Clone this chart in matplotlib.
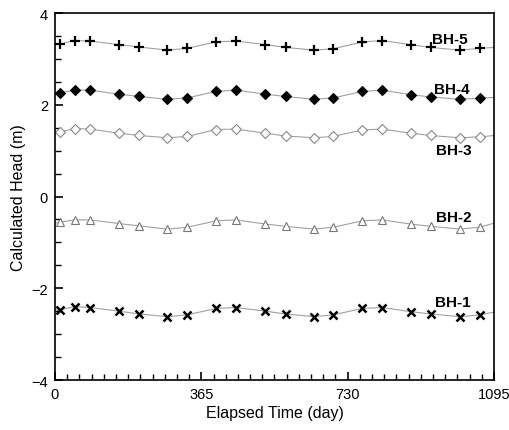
import numpy as np
import matplotlib.pyplot as plt
from matplotlib.ticker import MultipleLocator

plt.rcParams['font.family'] = ['Liberation Sans', 'DejaVu Sans']

# observation times (day)
days = [12, 49, 87, 160, 210, 280, 330, 402, 451, 525, 575, 646, 694, 767, 816, 887, 937, 1010, 1060]

# calculated heads (m)
bh5 = [3.32, 3.40, 3.39, 3.31, 3.26, 3.19, 3.23, 3.37, 3.39, 3.31,
       3.25, 3.19, 3.22, 3.37, 3.40, 3.31, 3.25, 3.19, 3.23]
bh4 = [2.26, 2.32, 2.32, 2.23, 2.18, 2.12, 2.15, 2.29, 2.32, 2.23,
       2.18, 2.12, 2.15, 2.29, 2.32, 2.22, 2.17, 2.12, 2.14]
bh3 = [1.41, 1.48, 1.47, 1.38, 1.33, 1.28, 1.31, 1.46, 1.47, 1.38,
       1.32, 1.28, 1.31, 1.45, 1.47, 1.38, 1.33, 1.28, 1.30]
bh2 = [-0.56, -0.51, -0.51, -0.59, -0.64, -0.71, -0.67, -0.53, -0.51, -0.60,
       -0.65, -0.71, -0.67, -0.53, -0.51, -0.60, -0.65, -0.71, -0.67]
bh1 = [-2.47, -2.40, -2.42, -2.50, -2.56, -2.62, -2.58, -2.44, -2.42, -2.50,
       -2.56, -2.62, -2.58, -2.44, -2.42, -2.51, -2.56, -2.62, -2.58]

# where the curves meet the left and right frame
line_start = [3.31, 2.23, 1.40, -0.58, -2.48]
line_end = [3.25, 2.16, 1.33, -0.58, -2.52]

names = ['BH-5', 'BH-4', 'BH-3', 'BH-2', 'BH-1']
label_pos = [(985, 3.43), (990, 2.34), (995, 1.01), (995, -0.45), (993, -2.30)]

fig = plt.figure(figsize=(5.09, 4.31), dpi=100)
ax = fig.add_axes([0.108, 0.116, 0.8625, 0.8515])

styles = [
    dict(marker='+', ms=7, mew=1.6, mfc='black', mec='black'),
    dict(marker='D', ms=5, mew=0.8, mfc='black', mec='black'),
    dict(marker='D', ms=5, mew=0.8, mfc='white', mec='#888888'),
    dict(marker='^', ms=6, mew=0.8, mfc='white', mec='#777777'),
    dict(marker='x', ms=5.5, mew=1.8, mfc='black', mec='black'),
]

for i, vals in enumerate([bh5, bh4, bh3, bh2, bh1]):
    lx = [0] + days + [1095]
    ly = [line_start[i]] + vals + [line_end[i]]
    ax.plot(lx, ly, color='#a0a0a0', lw=0.8, zorder=1)
    ax.plot(days, vals, ls='none', zorder=2, **styles[i])
    ax.text(label_pos[i][0], label_pos[i][1], names[i], fontsize=11,
            fontweight='bold', ha='center', va='center')

ax.set_xlim(0, 1095)
ax.set_ylim(-4, 4)
ax.set_xticks([0, 365, 730, 1095])
ax.set_yticks([-4, -2, 0, 2, 4])
ax.xaxis.set_minor_locator(MultipleLocator(365 / 12))
ax.yaxis.set_minor_locator(MultipleLocator(0.5))
ax.tick_params(which='both', direction='in', top=False, right=False, labelsize=10.5)
ax.tick_params(which='major', length=6, width=1.2, pad=5)
ax.tick_params(which='minor', length=4, width=1.0)
for s in ax.spines.values():
    s.set_linewidth(1.2)

ax.set_xlabel('Elapsed Time (day)', fontsize=11.5, labelpad=3)
ax.set_ylabel('Calculated Head (m)', fontsize=11.5, labelpad=4)

fig.savefig('out.png', dpi=100)
